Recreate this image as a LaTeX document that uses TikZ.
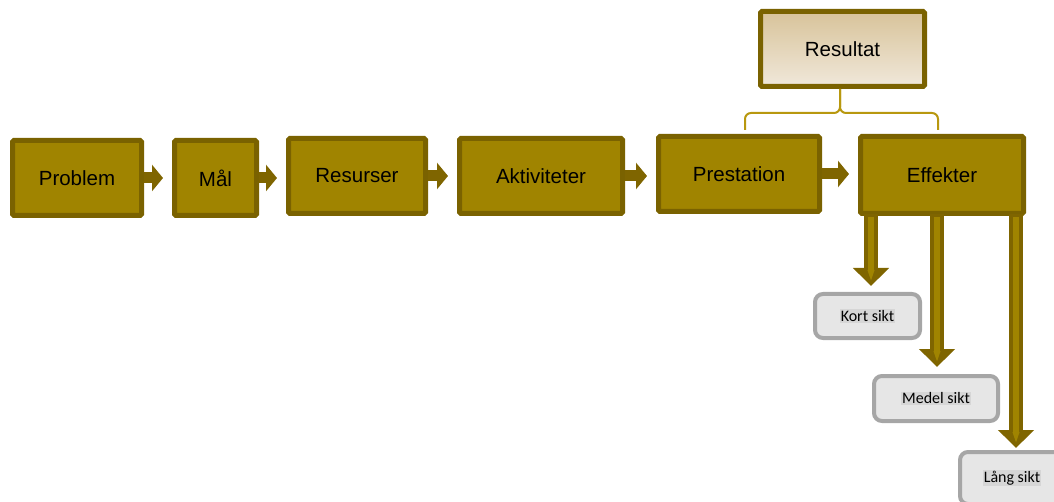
\documentclass[tikz,border=0pt]{standalone}
\usepackage{fontspec}
\setmainfont{Liberation Sans}
\newfontfamily\calib{Carlito}
\usetikzlibrary{arrows.meta}
\definecolor{gold}{HTML}{A08400}
\definecolor{golddark}{HTML}{7A6200}
\definecolor{arrowdark}{HTML}{7F6500}
\definecolor{bracegold}{HTML}{B8980F}
\definecolor{restop}{HTML}{D8C39A}
\definecolor{resbot}{HTML}{F0E8DA}
\definecolor{grayfill}{HTML}{E6E6E6}
\definecolor{grayline}{HTML}{A6A6A6}
\definecolor{hl}{HTML}{D6D6D6}
\setlength\fboxsep{1pt}
\begin{document}
\begin{tikzpicture}[x=1pt,y=-1pt,
  stepbox/.style={draw=golddark, fill=gold, line width=5pt, rounded corners=1.5pt, inner sep=0pt, text=black, font=\fontsize{20.5}{24}\selectfont},
  resbox/.style={draw=golddark, line width=5pt, top color=restop, bottom color=resbot, rounded corners=1.5pt, inner sep=0pt, text=black, font=\fontsize{20.5}{24}\selectfont},
  sikt/.style={draw=grayline, fill=grayfill, line width=4pt, rounded corners=8pt, inner sep=0pt, text=black, font=\calib\fontsize{16}{19}\selectfont},
  harrow/.style={draw=arrowdark, line width=11pt, -{Triangle[length=11pt,width=26pt]}, shorten >=9pt},
  darrow/.style={draw=arrowdark, line width=14pt, -{Triangle[length=18pt,width=35pt]}},
  darrowin/.style={draw=gold, line width=6pt, -{Triangle[length=12pt,width=6pt]}},
  bracestyle/.style={draw=bracegold, line width=2pt, rounded corners=6pt}
]
\useasboundingbox (0,0) rectangle (1054,502);

% main chain
\node[stepbox, minimum width=129pt, minimum height=75pt] (p) at (77,178) {\raisebox{-1.5pt}{Problem}};
\node[stepbox, minimum width=82pt, minimum height=75pt] (m) at (215.5,178) {\raisebox{-1.5pt}{Mål}};
\node[stepbox, minimum width=137pt, minimum height=75pt] (r) at (357,176) {\raisebox{-1pt}{Resurser}};
\node[stepbox, minimum width=163pt, minimum height=75pt] (a) at (541,176) {\raisebox{-1pt}{Aktiviteter}};
\node[stepbox, minimum width=161pt, minimum height=75pt] (pr) at (739,174) {\raisebox{-2pt}{Prestation}};
\node[stepbox, minimum width=163pt, minimum height=77pt] (e) at (942,175) {\raisebox{-2pt}{Effekter}};

% result box
\node[resbox, minimum width=164pt, minimum height=75pt] (res) at (842.5,49) {Resultat};

% horizontal arrows
\draw[harrow] (p.east) -- (p.east -| m.west);
\draw[harrow] (m.east) -- (m.east -| r.west);
\draw[harrow] (r.east) -- (r.east -| a.west);
\draw[harrow] (a.east) -- (a.east -| pr.west);
\draw[harrow] (pr.east) -- (pr.east -| e.west);

% brace
\coordinate (bl) at (745,130);
\coordinate (br) at (938,130);
\coordinate (bm) at (840,113);
\draw[bracestyle] (bl) |- (bm) -- (bm |- res.south);
\draw[bracestyle] (br) |- (bm) -- (bm |- res.south);

% term boxes
\node[sikt, minimum width=105pt, minimum height=44pt] (k) at (867.5,316) {\raisebox{-2.5pt}{\colorbox{hl}{Kort sikt}}};
\node[sikt, minimum width=124pt, minimum height=45pt] (md) at (936,398.5) {\raisebox{-2.5pt}{\colorbox{hl}{Medel sikt}}};
\node[sikt, minimum width=104pt, minimum height=52pt] (l) at (1012,478) {\colorbox{hl}{Lång sikt}};

% down arrows
\coordinate (t1) at (871,286);
\coordinate (t2) at (937,367);
\coordinate (t3) at (1016,448);
\foreach \t in {t1,t2,t3}{
  \draw[darrow] ([yshift=2pt]\t |- e.south) -- (\t);
  \draw[darrowin] ([yshift=-1pt]\t |- e.south) -- ([yshift=4pt]\t);
}
\end{tikzpicture}
\end{document}
